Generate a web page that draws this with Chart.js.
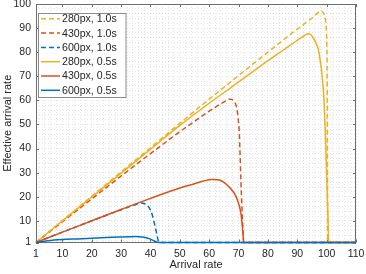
<!DOCTYPE html>
<html><head><meta charset="utf-8">
<script src="https://cdn.jsdelivr.net/npm/chart.js@4"></script>
<style>html,body{margin:0;padding:0;background:#fff}#wrap{width:366px;height:274px;position:relative}</style>
</head><body><div id="wrap"><canvas id="c"></canvas></div>
<script>
const seriesLabels = ['280px, 1.0s','430px, 1.0s','600px, 1.0s','280px, 0.5s','430px, 0.5s','600px, 0.5s'];
const xTickLabels = [1,10,20,30,40,50,60,70,80,90,100,110];
const yTickLabels = [1,10,20,30,40,50,60,70,80,90,100];

const x280_10 = [1,10,20,30,40,50,60,70,80,90,95,97,98.1,98.9,99.4,99.7,100,100.15,100.25,100.3,100.35,110];
const y280_10 = [1,10,20.2,30.3,40.3,50.5,60.5,70.3,80,89.6,94.2,96.3,97.2,96.3,94.8,92,86,75,50,25,1,1];
const x430_10 = [1,10,20,30,40,50,55,60,64,66,66.8,67.7,68.5,69.3,69.8,70.2,70.5,70.8,71.2,71.5,71.7,110];
const y430_10 = [1,9.6,19.1,28.6,37.9,47,51.3,55.5,58.6,60,60.5,60.4,59.5,57.3,53,47.6,38,26.8,14,6,1,1];
const x600_10 = [1,10,20,30,35,36.8,38,39,40,40.6,41.1,41.7,42.25,42.6,42.9,110];
const y600_10 = [1,5.3,10,14.6,16.8,17.4,17.1,16.3,14.5,12.5,10.1,7,3.9,2,1,1];
const x280_05 = [1,10,20,30,40,50,60,70,80,85,88,90,92,93.7,94.5,95.3,96.4,97.2,98.1,98.5,99.1,99.6,100.1,100.5,100.7,110];
const y280_05 = [1,10,19.9,29.8,39.7,49.6,58.8,67.6,76.5,80.7,83.2,84.9,86.6,87.6,87.4,86.2,83.7,81,74,70,60,45,25,10,1,1];
const x430_05 = [1,10,20,30,40,50,55,58,61,63,65,67,68.5,69.5,70.3,70.9,71.4,71.8,110];
const y430_05 = [1,5.3,10,14.7,19.3,23.6,25.4,26.5,27.1,27,26,23.8,21.5,19,16,12.2,6,1,1];
const x600_05 = [1,5,10,15,20,25,30,33,35,37,38.5,39.5,40.5,41.3,42,42.8,110];
const y600_05 = [1,1.7,2.2,2.5,2.8,3.05,3.3,3.4,3.45,3.3,3,2.6,2.1,1.6,1.25,1,1];

const seriesX = [x280_10,x430_10,x600_10,x280_05,x430_05,x600_05];
const seriesY = [y280_10,y430_10,y600_10,y280_05,y430_05,y600_05];
const colors = ['#EDB120','#D95319','#0072BD','#EDB120','#D95319','#0072BD'];
const dashed = [true,true,true,false,false,false];

const TXT = '#262626';
const FONT = '"Liberation Sans", Arial, Helvetica, sans-serif';

function pts(xs, ys){ return xs.map((x,i)=>({x:x,y:ys[i]})); }

const datasets = seriesLabels.map((lab,i)=>({
  label: lab,
  data: pts(seriesX[i], seriesY[i]),
  borderColor: colors[i],
  backgroundColor: colors[i],
  borderWidth: 1.5,
  borderDash: dashed[i] ? [5,3] : [],
  pointRadius: 0,
  fill: false,
  cubicInterpolationMode: 'monotone',
  order: seriesLabels.length - i,
  clip: false
}));

function minorTicks(min, max, majors){
  const s = new Set(majors);
  for (let v = 2; v <= max; v += 2) if (v >= min) s.add(v);
  return Array.from(s).sort((a,b)=>a-b);
}

const boxPlugin = {
  id: 'matlabBox',
  beforeDatasetsDraw(chart){
    const {ctx, chartArea:a, scales} = chart;
    ctx.save();
    ctx.strokeStyle = '#6e6e6e';
    ctx.lineWidth = 1;
    ctx.beginPath();
    ctx.rect(Math.round(a.left)+0.5, Math.round(a.top)+0.5, Math.round(a.right-a.left)-1, Math.round(a.bottom-a.top)-1);
    ctx.stroke();
    ctx.beginPath();
    const tl = 3;
    xTickLabels.forEach(v=>{
      const px = Math.round(scales.x.getPixelForValue(v))+0.5;
      ctx.moveTo(px, a.bottom); ctx.lineTo(px, a.bottom-tl);
      ctx.moveTo(px, a.top); ctx.lineTo(px, a.top+tl);
    });
    yTickLabels.forEach(v=>{
      const py = Math.round(scales.y.getPixelForValue(v))+0.5;
      ctx.moveTo(a.left, py); ctx.lineTo(a.left+tl, py);
      ctx.moveTo(a.right, py); ctx.lineTo(a.right-tl, py);
    });
    ctx.stroke();
    ctx.restore();
  },
  afterDraw(chart){
    const ctx = chart.ctx;
    const bx = 38.5, by = 13.5, bw = 87.5, bh = 84;
    ctx.save();
    ctx.fillStyle = '#ffffff';
    ctx.fillRect(bx, by, bw, bh);
    ctx.strokeStyle = '#8a8a8a';
    ctx.lineWidth = 1;
    ctx.strokeRect(bx, by, bw, bh);
    ctx.font = '10.6px ' + FONT;
    ctx.textBaseline = 'middle';
    ctx.textAlign = 'left';
    chart.data.datasets.forEach((d,i)=>{
      const y = 18.8 + i*14.3;
      ctx.beginPath();
      ctx.strokeStyle = d.borderColor;
      ctx.lineWidth = 1.5;
      ctx.setLineDash(d.borderDash);
      ctx.moveTo(41, y); ctx.lineTo(60, y);
      ctx.stroke();
      ctx.setLineDash([]);
      ctx.fillStyle = TXT;
      ctx.fillText(d.label, 62, y+0.5);
    });
    ctx.restore();
  }
};

new Chart(document.getElementById('c'), {
  type: 'line',
  data: { datasets },
  options: {
    responsive: true,
    maintainAspectRatio: false,
    animation: false,
    events: [],
    layout: { padding: { top: 4, right: 10, left: 0, bottom: 0 } },
    plugins: { legend: { display: false }, tooltip: { enabled: false } },
    scales: {
      x: {
        type: 'linear', min: 1, max: 110,
        afterBuildTicks(s){ s.ticks = minorTicks(1,110,xTickLabels).map(v=>({value:v})); },
        afterFit(s){ s.height = 31.5; s.paddingLeft = 0; s.paddingRight = 0; },
        ticks: {
          autoSkip: false, maxRotation: 0, padding: 5, color: TXT,
          font: { size: 10.5, family: FONT },
          callback: v => xTickLabels.includes(v) ? String(v) : ''
        },
        grid: { color: 'rgba(0,0,0,0.1)', lineWidth: 1, drawTicks: false },
        border: { display: false, dash: [1,2] },
        title: { display: true, text: 'Arrival rate', color: TXT, font: { size: 11, family: FONT }, padding: { top: 0, bottom: 2 } }
      },
      y: {
        type: 'linear', min: 1, max: 100,
        afterBuildTicks(s){ s.ticks = minorTicks(1,100,yTickLabels).map(v=>({value:v})); },
        afterFit(s){ s.width = 36; s.paddingTop = 0; s.paddingBottom = 0; },
        ticks: {
          autoSkip: false, padding: 5, color: TXT,
          font: { size: 10.5, family: FONT },
          callback: v => yTickLabels.includes(v) ? String(v) : ''
        },
        grid: { color: 'rgba(0,0,0,0.1)', lineWidth: 1, drawTicks: false },
        border: { display: false, dash: [1,2] },
        title: { display: true, text: 'Effective arrival rate', color: TXT, font: { size: 11, family: FONT }, padding: { top: 1, bottom: 0 } }
      }
    }
  },
  plugins: [boxPlugin]
});
</script></body></html>
